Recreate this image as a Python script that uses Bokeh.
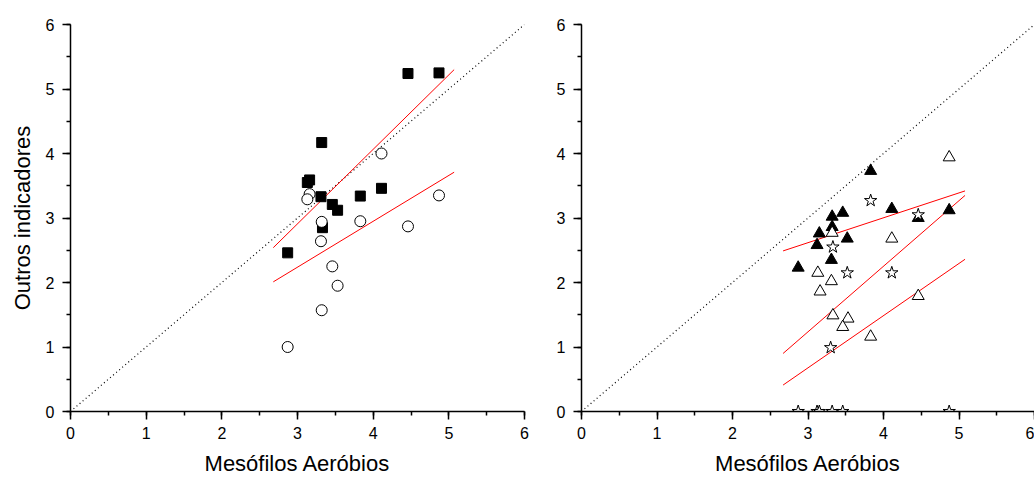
from bokeh.plotting import figure
from bokeh.layouts import row
from bokeh.models import SingleIntervalTicker, Range1d
from bokeh.embed import file_html
from bokeh.resources import INLINE

# ---- left panel data ----
sq_x = [2.87, 3.32, 3.16, 3.13, 3.31, 3.46, 3.53, 3.33, 3.83, 4.11, 4.46, 4.87]
sq_y = [2.46, 4.17, 3.59, 3.55, 3.33, 3.21, 3.12, 2.85, 3.34, 3.46, 5.24, 5.25]
ci_x = [2.87, 3.32, 3.53, 3.46, 3.31, 3.32, 3.83, 4.46, 4.87, 4.11, 3.16, 3.13]
ci_y = [1.00, 1.57, 1.95, 2.25, 2.64, 2.94, 2.95, 2.87, 3.35, 4.00, 3.37, 3.29]
fit_sq_x = [2.68, 5.07]
fit_sq_y = [2.54, 5.30]
fit_ci_x = [2.68, 5.07]
fit_ci_y = [2.01, 3.71]

# ---- right panel data ----
ft_x = [3.83, 4.11, 4.87, 4.46, 3.46, 3.32, 3.32, 3.15, 3.12, 3.52, 3.31, 2.87]
ft_y = [3.73, 3.14, 3.12, 3.00, 3.08, 3.02, 2.86, 2.76, 2.58, 2.68, 2.35, 2.23]
ot_x = [4.87, 4.11, 3.32, 3.13, 3.31, 3.16, 4.46, 3.33, 3.53, 3.46, 3.83]
ot_y = [3.94, 2.68, 2.77, 2.15, 2.02, 1.86, 1.79, 1.49, 1.44, 1.31, 1.16]
st_x = [3.83, 4.46, 3.33, 3.52, 4.11, 3.30, 2.87, 3.12, 3.15, 3.32, 3.46, 4.87]
st_y = [3.27, 3.05, 2.55, 2.15, 2.15, 0.99, 0.0, 0.0, 0.0, 0.0, 0.0, 0.0]
fit_x = [2.67, 5.08]
fit_ft_y = [2.49, 3.42]
fit_st_y = [0.90, 3.35]
fit_ot_y = [0.41, 2.36]

diag = [0, 6]

x_title = "Mesófilos Aeróbios"
y_title = "Outros indicadores"
FONT = "Liberation Sans"


def make_fig(width, left, right, ylabel):
    p = figure(width=width, height=481, output_backend="svg", toolbar_location=None,
               x_range=Range1d(0, 6), y_range=Range1d(0, 6),
               min_border_left=left, min_border_right=right,
               min_border_top=24, min_border_bottom=70)
    p.outline_line_color = None
    p.xgrid.visible = False
    p.ygrid.visible = False
    for ax in (p.xaxis[0], p.yaxis[0]):
        ax.ticker = SingleIntervalTicker(interval=1, num_minor_ticks=2)
        ax.major_tick_out = 8
        ax.major_tick_in = 0
        ax.minor_tick_out = 4
        ax.minor_tick_in = 0
        ax.axis_line_width = 1.5
        ax.major_tick_line_width = 1.5
        ax.minor_tick_line_width = 1.5
        ax.axis_line_color = "black"
        ax.major_tick_line_color = "black"
        ax.minor_tick_line_color = "black"
        ax.major_label_text_font = FONT
        ax.major_label_text_font_size = "16px"
        ax.major_label_text_color = "black"
        ax.major_label_standoff = 7
        ax.axis_label_text_font = FONT
        ax.axis_label_text_font_size = "22px"
        ax.axis_label_text_font_style = "normal"
        ax.axis_label_text_color = "black"
    p.xaxis.axis_label = x_title
    p.xaxis.axis_label_standoff = 9
    p.yaxis.major_label_standoff = 8
    if ylabel:
        p.yaxis.axis_label = y_title
        p.yaxis.axis_label_standoff = 8
    p.line(diag, diag, line_color="black", line_width=1.2, line_dash="1 3")
    return p


p1 = make_fig(540, 70, 16, True)
p1.line(fit_sq_x, fit_sq_y, line_color="red", line_width=1)
p1.line(fit_ci_x, fit_ci_y, line_color="red", line_width=1)
p1.scatter(sq_x, sq_y, marker="square", size=10, fill_color="black", line_color="black")
p1.scatter(ci_x, ci_y, marker="circle", size=11, fill_color="white", line_color="black", line_width=1)

p2 = make_fig(494, 41, 0, False)
p2.line(fit_x, fit_ft_y, line_color="red", line_width=1)
p2.line(fit_x, fit_st_y, line_color="red", line_width=1)
p2.line(fit_x, fit_ot_y, line_color="red", line_width=1)
p2.scatter(ft_x, ft_y, marker="triangle", size=12, fill_color="black", line_color="black")
p2.scatter(ot_x, ot_y, marker="triangle", size=12, fill_color="white", line_color="black", line_width=1)
p2.scatter(st_x, st_y, marker="star", size=13, fill_color="white", line_color="black", line_width=1)

layout = row(p1, p2)
open("out.html", "w").write(file_html(layout, INLINE))
